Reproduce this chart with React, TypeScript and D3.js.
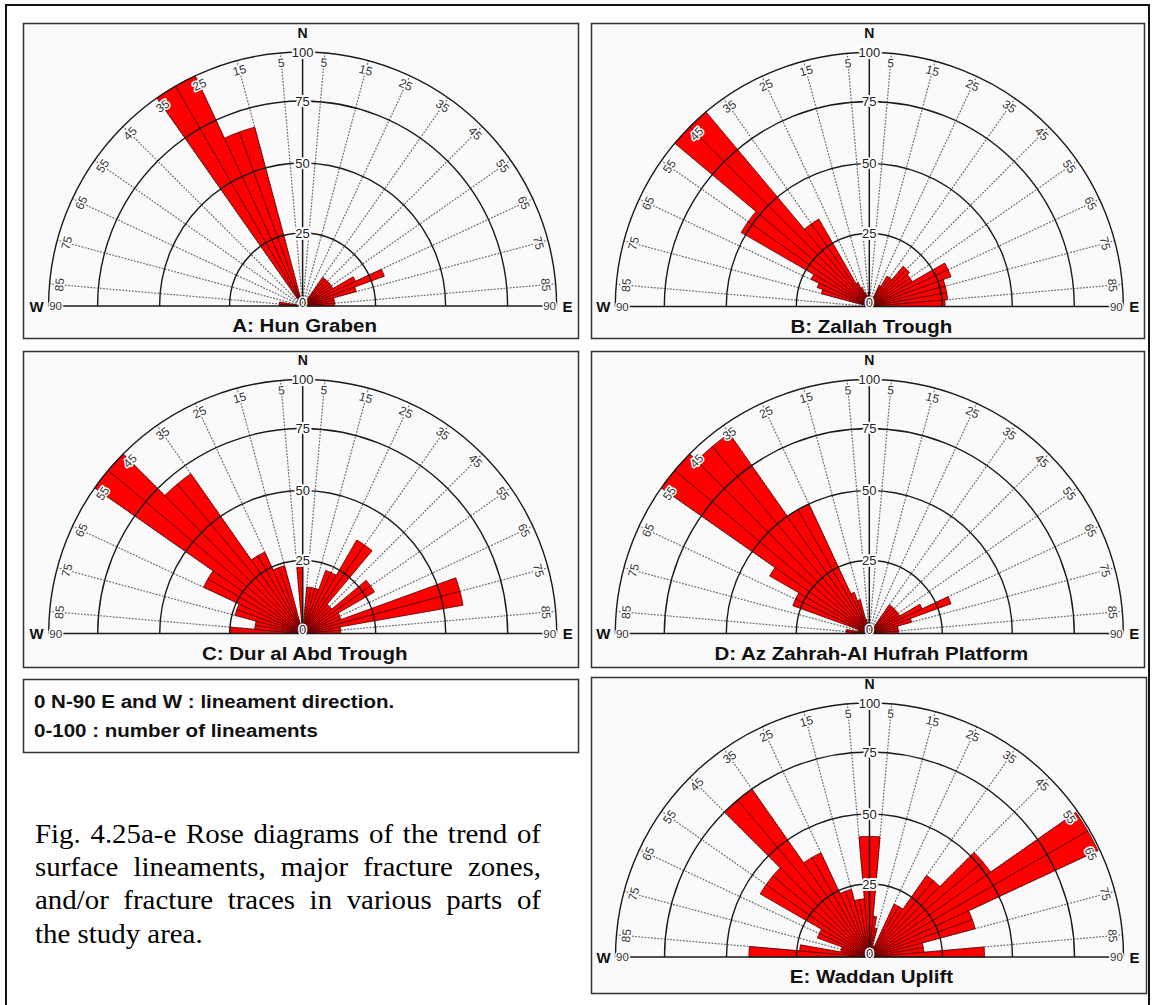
import React, { useMemo } from "react";
import * as d3 from "d3";

// ---------- data ----------
// 5-degree bins, start angle (deg from N, negative = W)
const BIN_START = [
  -90, -85, -80, -75, -70, -65, -60, -55, -50, -45, -40, -35, -30, -25, -20, -15, -10, -5,
  0, 5, 10, 15, 20, 25, 30, 35, 40, 45, 50, 55, 60, 65, 70, 75, 80, 85,
];
const BIN_WIDTH = 5;
const SPOKE_ANGLES = [5, 15, 25, 35, 45, 55, 65, 75, 85];
const RING_VALUES = [25, 50, 75, 100];

const HUN_GRABEN = [
  8, 8, 0, 0, 0, 0, 0, 0, 0, 0, 0, 100, 100, 67, 67, 0, 0, 0,
  0, 0, 0, 0, 0, 0, 0, 12, 12, 12, 12, 12, 20, 30, 19, 11, 11, 11,
];
const ZALLAH_TROUGH = [
  0, 0, 0, 17, 19, 22, 52, 52, 100, 100, 35, 35, 9, 7, 5, 4, 3, 5,
  0, 0, 0, 0, 0, 8, 12, 12, 18, 18, 17, 17, 30, 30, 27, 27, 27, 26,
];
const DUR_AL_ABD = [
  25, 16.5, 16.5, 24, 24, 38, 38, 100, 100, 71, 71, 31, 31, 24, 24, 3, 3, 24,
  0, 16, 16, 16, 23, 23, 37.5, 37.5, 13, 13, 28.5, 28.5, 14, 14, 58, 58, 13, 13,
];
const AZ_ZAHRAH = [
  8, 8, 4, 4, 28, 28, 40, 100, 100, 95, 95, 50, 50, 15, 12, 5, 3, 2,
  0, 0, 0, 0, 0, 0, 0, 12, 12, 12, 12, 12, 20, 30, 15, 10, 10, 10,
];
const WADDAN_UPLIFT = [
  42, 24, 10, 10, 19, 19, 44, 44, 44, 75, 75, 40, 40, 24, 24, 20, 20, 42,
  42, 14, 10, 4, 4, 20, 20, 34.5, 34.5, 52, 52, 99, 99, 38, 38, 18.7, 18.7, 40,
];

const PANEL_TITLES = [
  "A: Hun Graben",
  "B: Zallah Trough",
  "C: Dur al Abd Trough",
  "D: Az Zahrah-Al Hufrah Platform",
  "E: Waddan Uplift",
];
const PANEL_VALUES = [HUN_GRABEN, ZALLAH_TROUGH, DUR_AL_ABD, AZ_ZAHRAH, WADDAN_UPLIFT];

const LEGEND_LINES = ["0 N-90 E and W : lineament direction.", "0-100 : number of lineaments"];
const CAPTION_LINES = [
  "Fig. 4.25a-e Rose diagrams of the trend of",
  "surface lineaments, major fracture zones,",
  "and/or fracture traces in various parts of",
  "the study area.",
];

// ---------- layout ----------
const W = 1152;
const H = 1005;
const R = 254;
const SANS = "'Liberation Sans', Arial, Helvetica, sans-serif";
const SERIF = "'Liberation Serif', 'Times New Roman', Times, serif";

const PANELS = [
  { box: [23.5, 23.5, 555, 315], cx: 302.6, cy: 306 },
  { box: [591.5, 23.5, 553, 315], cx: 869.3, cy: 306.5 },
  { box: [23.5, 351.5, 555, 316], cx: 302.7, cy: 633.5 },
  { box: [591.5, 351.5, 553, 316], cx: 869.3, cy: 633.5 },
  { box: [591.5, 677.5, 555, 316], cx: 869.5, cy: 957 },
];

const rScale = d3.scaleLinear().domain([0, 25, 50, 75, 100]).range([0, 73, 143, 205, R]);
const rad = (deg: number) => (deg * Math.PI) / 180;

function ringPath(r: number) {
  const p = d3.path();
  p.moveTo(-r, 0);
  p.arc(0, 0, r, Math.PI, 2 * Math.PI);
  return p.toString();
}

const halo = { paintOrder: "stroke", stroke: "#fff", strokeLinejoin: "round" as const };

function Rose({ cx, cy, values, title }: { cx: number; cy: number; values: number[]; title: string }) {
  const arc = d3.arc<any>();
  const bars = BIN_START.map((s, i) => ({
    v: values[i],
    d:
      values[i] > 0
        ? arc({
            innerRadius: 0,
            outerRadius: rScale(values[i]),
            startAngle: rad(s),
            endAngle: rad(s + BIN_WIDTH),
          })
        : null,
  }));
  const spokeAngles = [...SPOKE_ANGLES.map((a) => -a), ...SPOKE_ANGLES];
  return (
    <g transform={`translate(${cx},${cy})`}>
      {spokeAngles.map((a) => (
        <line
          key={"s" + a}
          x1={0}
          y1={0}
          x2={R * Math.sin(rad(a))}
          y2={-R * Math.cos(rad(a))}
          stroke="#6a6a6a"
          strokeWidth={1.2}
          strokeDasharray="1.8 1.4"
        />
      ))}
      {bars.map((b, i) =>
        b.d ? <path key={"b" + i} d={b.d} fill="#ff0000" stroke="#550000" strokeWidth={0.8} /> : null
      )}
      {RING_VALUES.map((v) => (
        <path key={"r" + v} d={ringPath(rScale(v))} fill="none" stroke="#1a1a1a" strokeWidth={1.4} />
      ))}
      <line x1={-R} y1={0} x2={R} y2={0} stroke="#1a1a1a" strokeWidth={1.5} />
      <line x1={0} y1={0} x2={0} y2={-R} stroke="#1a1a1a" strokeWidth={1.5} />
      {spokeAngles.map((a) => (
        <text
          key={"l" + a}
          transform={`translate(${244 * Math.sin(rad(a))},${-244 * Math.cos(rad(a))}) rotate(${a})`}
          textAnchor="middle"
          dominantBaseline="central"
          fontFamily={SANS}
          fontSize={12}
          fill="#333"
          strokeWidth={3}
          style={halo}
        >
          {Math.abs(a)}
        </text>
      ))}
      {[-1, 1].map((s) => (
        <text
          key={"n90" + s}
          x={s * 247}
          y={0}
          textAnchor="middle"
          dominantBaseline="central"
          fontFamily={SANS}
          fontSize={11.5}
          fill="#333"
          strokeWidth={3}
          style={halo}
        >
          90
        </text>
      ))}
      {RING_VALUES.map((v) => (
        <text
          key={"rl" + v}
          x={0}
          y={-rScale(v)}
          textAnchor="middle"
          dominantBaseline="central"
          fontFamily={SANS}
          fontSize={13}
          fill="#222"
          strokeWidth={4}
          style={halo}
        >
          {v}
        </text>
      ))}
      <text
        x={0}
        y={-4}
        textAnchor="middle"
        dominantBaseline="central"
        fontFamily={SANS}
        fontSize={13}
        fill="#222"
        strokeWidth={3}
        style={halo}
      >
        0
      </text>
      <text x={0} y={-268.5} textAnchor="middle" fontFamily={SANS} fontWeight="bold" fontSize={14} fill="#111">
        N
      </text>
      <text x={-266} y={5.5} textAnchor="middle" fontFamily={SANS} fontWeight="bold" fontSize={15} fill="#111">
        W
      </text>
      <text x={265} y={5.5} textAnchor="middle" fontFamily={SANS} fontWeight="bold" fontSize={15} fill="#111">
        E
      </text>
      <text
        transform={`translate(2,26) scale(1.08,1)`}
        textAnchor="middle"
        fontFamily={SANS}
        fontWeight="bold"
        fontSize={19}
        fill="#111"
      >
        {title}
      </text>
    </g>
  );
}

function useMeasure() {
  return useMemo(() => {
    const c = document.createElement("canvas");
    const ctx = c.getContext("2d");
    return (txt: string, font: string) => {
      if (!ctx) return txt.length * 12;
      ctx.font = font;
      return ctx.measureText(txt).width;
    };
  }, []);
}

function Caption() {
  const measure = useMeasure();
  const fontSize = 26.5;
  const sx = 1.09;
  const font = `${fontSize}px 'Liberation Serif'`;
  const left = 35;
  const width = 506;
  const top = 842.7;
  const lh = 33.3;
  return (
    <g>
      {CAPTION_LINES.map((line, li) => {
        const words = line.split(" ");
        const last = li === CAPTION_LINES.length - 1;
        const ws = words.map((w) => measure(w, font) * sx);
        const spaceW = measure(" ", font) * sx;
        const total = ws.reduce((a, b) => a + b, 0);
        const gap = last ? spaceW : (width - total) / (words.length - 1);
        let x = left;
        return words.map((w, wi) => {
          const el = (
            <text
              key={li + "-" + wi}
              transform={`translate(${x},${top + li * lh}) scale(${sx},1)`}
              fontFamily={SERIF}
              fontSize={fontSize}
              fill="#000"
            >
              {w}
            </text>
          );
          x += ws[wi] + gap;
          return el;
        });
      })}
    </g>
  );
}

export default function App() {
  return (
    <svg
      width={W}
      height={H}
      viewBox={`0 0 ${W} ${H}`}
      style={{ position: "fixed", left: 0, top: 0, background: "#fff", display: "block" }}
    >
      <rect x={0} y={0} width={W} height={H} fill="#fff" />
      <rect x={6} y={5} width={1143} height={1015} fill="none" stroke="#111" strokeWidth={2} />
      {PANELS.map((p, i) => (
        <g key={i}>
          <rect
            x={p.box[0]}
            y={p.box[1]}
            width={p.box[2]}
            height={p.box[3]}
            fill="#fafafa"
            stroke="#333"
            strokeWidth={1.5}
          />
          <Rose cx={p.cx} cy={p.cy} values={PANEL_VALUES[i]} title={PANEL_TITLES[i]} />
        </g>
      ))}
      <rect x={23.5} y={679.5} width={555} height={73} fill="#fff" stroke="#333" strokeWidth={1.5} />
      {LEGEND_LINES.map((t, i) => (
        <text
          key={i}
          transform={`translate(34,${708.3 + i * 28.7}) scale(1.08,1)`}
          fontFamily={SANS}
          fontWeight="bold"
          fontSize={19}
          fill="#111"
        >
          {t}
        </text>
      ))}
      <Caption />
    </svg>
  );
}
